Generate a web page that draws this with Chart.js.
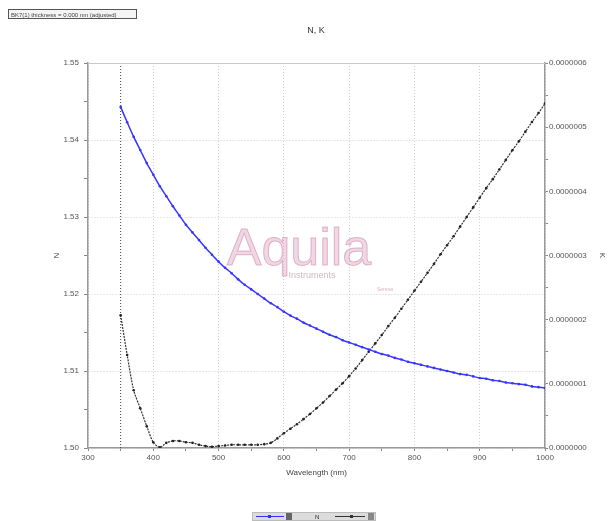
<!DOCTYPE html>
<html>
<head>
<meta charset="utf-8">
<script src="https://cdn.jsdelivr.net/npm/chart.js@4.4.0/dist/chart.umd.min.js"></script>
<style>
  html, body { margin: 0; padding: 0; background: #fff; }
  #wrap { width: 613px; height: 521px; position: relative; }
</style>
</head>
<body>
<div id="wrap"><canvas id="chart" width="613" height="521"></canvas></div>
<script>
// wavelength grid (nm)
const wavelengths = [350, 360, 370, 380, 390, 400, 410, 420, 430, 440, 450, 460, 470, 480, 490, 500,
  510, 520, 530, 540, 550, 560, 570, 580, 590, 600, 610, 620, 630, 640, 650, 660, 670, 680, 690, 700,
  710, 720, 730, 740, 750, 760, 770, 780, 790, 800, 810, 820, 830, 840, 850, 860, 870, 880, 890, 900,
  910, 920, 930, 940, 950, 960, 970, 980, 990, 1000];

// refractive index N (left axis)
const nValues = [1.5443, 1.5423, 1.5404, 1.5387, 1.5370, 1.5355, 1.5340, 1.5327, 1.5314, 1.5302,
  1.5290, 1.5280, 1.5270, 1.5260, 1.5251, 1.5242, 1.5234, 1.5227, 1.5219, 1.5212,
  1.5206, 1.5200, 1.5194, 1.5188, 1.5183, 1.5177, 1.5172, 1.5168, 1.5163, 1.5159,
  1.5155, 1.5151, 1.5147, 1.5144, 1.5140, 1.5137, 1.5134, 1.5131, 1.5128, 1.5125,
  1.5122, 1.5120, 1.5117, 1.5115, 1.5112, 1.5110, 1.5108, 1.5106, 1.5104, 1.5102,
  1.5100, 1.5098, 1.5096, 1.5095, 1.5093, 1.5091, 1.5090, 1.5088, 1.5087, 1.5085,
  1.5084, 1.5083, 1.5082, 1.5080, 1.5079, 1.5078];

// extinction coefficient K, in units of 1e-7 (right axis)
const kValues = [2.07, 1.45, 0.90, 0.62, 0.34, 0.09, 0.01, 0.08, 0.11, 0.11,
  0.09, 0.08, 0.05, 0.03, 0.02, 0.03, 0.04, 0.05, 0.05, 0.05,
  0.05, 0.05, 0.06, 0.08, 0.15, 0.23, 0.30, 0.37, 0.45, 0.53,
  0.62, 0.71, 0.81, 0.91, 1.01, 1.12, 1.24, 1.37, 1.50, 1.63,
  1.76, 1.90, 2.03, 2.17, 2.31, 2.45, 2.59, 2.73, 2.87, 3.02,
  3.16, 3.30, 3.45, 3.60, 3.75, 3.90, 4.05, 4.19, 4.34, 4.49,
  4.64, 4.78, 4.93, 5.08, 5.22, 5.37];

const cutoffLine = [350, 350];
const cutoffY = [1.50, 1.55];

const FONT = 'Liberation Sans';

const isMajor = (v, step) => Math.abs(v / step - Math.round(v / step)) < 1e-6;

// title, axis titles, header box, watermark, frame and mini legend
const decor = {
  id: 'decor',
  beforeDatasetsDraw(chart) {
    const c = chart.ctx;
    c.save();
    c.textAlign = 'center';
    c.textBaseline = 'alphabetic';
    c.fillStyle = 'rgba(215,140,175,0.35)';
    c.strokeStyle = 'rgba(190,110,150,0.45)';
    c.lineWidth = 1;
    c.font = '52px ' + FONT;
    c.fillText('Aquila', 299, 265);
    c.strokeText('Aquila', 299, 265);
    c.font = '9px ' + FONT;
    c.fillStyle = 'rgba(150,120,130,0.5)';
    c.fillText('Instruments', 312, 278);
    c.font = '5px ' + FONT;
    c.fillStyle = 'rgba(205,120,160,0.6)';
    c.fillText('Serena', 385, 291);
    c.restore();
  },
  afterDraw(chart) {
    const c = chart.ctx;
    const a = chart.chartArea;
    c.save();
    // top frame line
    c.strokeStyle = '#c8c8c8';
    c.lineWidth = 1;
    c.beginPath();
    c.moveTo(a.left, a.top + 0.5);
    c.lineTo(a.right, a.top + 0.5);
    c.stroke();

    // title
    c.fillStyle = '#333';
    c.font = '9px ' + FONT;
    c.textAlign = 'center';
    c.fillText('N, K', 316, 33);

    // axis titles
    c.fillStyle = '#444';
    c.font = '8px ' + FONT;
    c.fillText('Wavelength (nm)', (a.left + a.right) / 2, 475);
    c.save();
    c.translate(59, (a.top + a.bottom) / 2);
    c.rotate(-Math.PI / 2);
    c.fillText('N', 0, 0);
    c.restore();
    c.save();
    c.translate(600, (a.top + a.bottom) / 2);
    c.rotate(Math.PI / 2);
    c.fillText('K', 0, 0);
    c.restore();

    // header box
    c.fillStyle = '#f4f4f4';
    c.fillRect(8, 9, 129, 10);
    c.strokeStyle = '#555';
    c.strokeRect(8.5, 9.5, 128, 9);
    c.fillStyle = '#444';
    c.font = '6px ' + FONT;
    c.textAlign = 'left';
    c.fillText('BK7(1) thickness = 0.000 nm (adjusted)', 11, 16.5);

    // mini legend at bottom
    c.fillStyle = '#dcdcdc';
    c.fillRect(252, 512, 124, 9);
    c.strokeStyle = '#bbb';
    c.strokeRect(252.5, 512.5, 123, 8);
    c.strokeStyle = '#3030ff';
    c.beginPath(); c.moveTo(256, 516.5); c.lineTo(284, 516.5); c.stroke();
    c.fillStyle = '#3030ff';
    c.fillRect(268, 515, 3, 3);
    c.fillStyle = '#666';
    c.fillRect(286, 513, 6, 7);
    c.fillStyle = '#222';
    c.font = '6px ' + FONT;
    c.fillText('N', 315, 519);
    c.strokeStyle = '#333';
    c.beginPath(); c.moveTo(335, 516.5); c.lineTo(365, 516.5); c.stroke();
    c.fillStyle = '#333';
    c.fillRect(350, 515, 3, 3);
    c.fillStyle = '#888';
    c.fillRect(368, 513, 6, 7);
    c.restore();
  }
};

new Chart(document.getElementById('chart'), {
  type: 'line',
  data: {
    datasets: [
      {
        label: 'N',
        data: wavelengths.map((w, i) => ({ x: w, y: nValues[i] })),
        yAxisID: 'y',
        borderColor: '#3636ff',
        backgroundColor: '#3636ff',
        borderWidth: 1.5,
        pointRadius: 1.3,
        pointBorderWidth: 0,
        tension: 0.3
      },
      {
        label: 'K',
        data: wavelengths.map((w, i) => ({ x: w, y: kValues[i] })),
        yAxisID: 'y1',
        borderColor: '#333',
        backgroundColor: '#222',
        borderWidth: 1.2,
        borderDash: [2, 1],
        pointRadius: 1.3,
        pointBorderWidth: 0,
        tension: 0.3
      },
      {
        label: 'cutoff',
        data: cutoffLine.map((w, i) => ({ x: w, y: cutoffY[i] })),
        yAxisID: 'y',
        borderColor: '#444',
        borderWidth: 1,
        borderDash: [1, 2],
        pointRadius: 0
      }
    ]
  },
  options: {
    responsive: false,
    animation: false,
    layout: { padding: { top: 63, left: 0, right: 0, bottom: 0 } },
    plugins: {
      legend: { display: false },
      title: { display: false },
      tooltip: { enabled: false }
    },
    scales: {
      x: {
        type: 'linear',
        min: 300,
        max: 1000,
        afterFit: s => { s.height = 73; },
        ticks: {
          stepSize: 50,
          autoSkip: false,
          maxRotation: 0,
          padding: 2,
          color: '#555',
          font: { family: FONT, size: 8 },
          callback: v => isMajor(v, 100) ? String(v) : ''
        },
        grid: {
          color: ctx => (ctx.tick && isMajor(ctx.tick.value, 100)) ? '#d0d0d0' : 'rgba(0,0,0,0)',
          tickColor: '#888',
          tickLength: 3
        },
        border: { color: '#999', width: 1.5, dash: [1, 2] }
      },
      y: {
        position: 'left',
        min: 1.50,
        max: 1.55,
        afterFit: s => { s.width = 88; },
        ticks: {
          stepSize: 0.005,
          autoSkip: false,
          padding: 5,
          color: '#555',
          font: { family: FONT, size: 8 },
          callback: v => isMajor(v, 0.01) ? v.toFixed(2) : ''
        },
        grid: {
          color: ctx => (ctx.tick && isMajor(ctx.tick.value, 0.01)) ? '#d0d0d0' : 'rgba(0,0,0,0)',
          tickColor: '#888',
          tickLength: 4
        },
        border: { color: '#999', width: 1.5, dash: [1, 2] }
      },
      y1: {
        position: 'right',
        min: 0,
        max: 6,
        afterFit: s => { s.width = 68; },
        ticks: {
          stepSize: 0.5,
          autoSkip: false,
          padding: 1,
          color: '#555',
          font: { family: FONT, size: 8 },
          callback: v => isMajor(v, 1) ? (v * 1e-7).toFixed(7) : ''
        },
        grid: {
          drawOnChartArea: false,
          tickColor: '#888',
          tickLength: 3
        },
        border: { color: '#999', width: 1.5 }
      }
    }
  },
  plugins: [decor]
});
</script>
</body>
</html>
